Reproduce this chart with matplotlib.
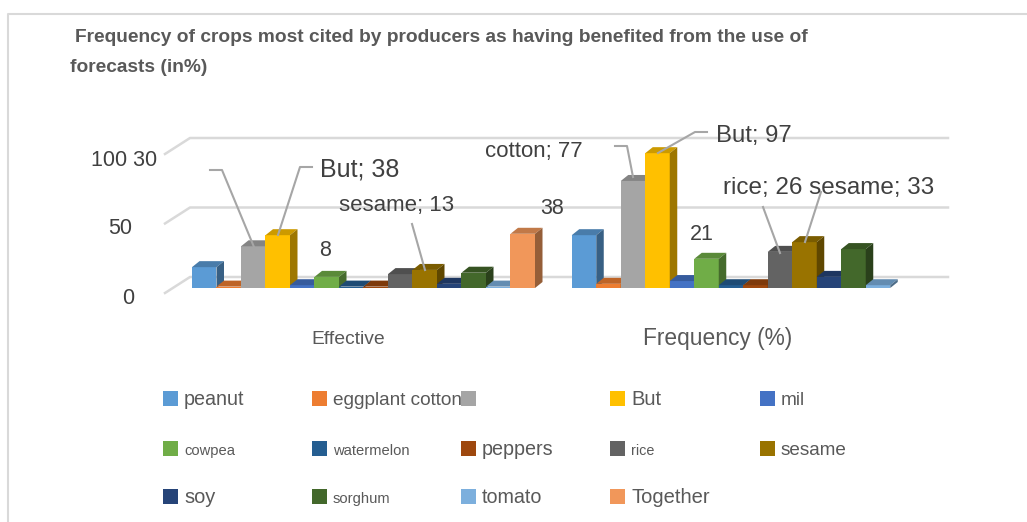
import matplotlib
matplotlib.use('Agg')
import matplotlib.pyplot as plt
from matplotlib.patches import Polygon, Rectangle
from matplotlib.colors import to_rgb

plt.rcParams['font.family'] = ['Liberation Sans', 'DejaVu Sans']

crops = ['peanut', 'eggplant', 'cotton', 'But', 'mil', 'cowpea', 'watermelon',
         'peppers', 'rice', 'sesame', 'soy', 'sorghum', 'tomato', 'Together']
effective = [15, 1, 30, 38, 2, 8, 1, 1, 10, 13, 3, 11, 1, 39]
frequency = [38, 3, 77, 97, 5, 21, 2, 2, 26, 33, 8, 28, 2, 0]
colors = ['#5B9BD5', '#ED7D31', '#A5A5A5', '#FFC000', '#4472C4', '#70AD47', '#255E91',
          '#9E480E', '#636363', '#997300', '#264478', '#43682B', '#7CAFDD', '#F1975A']
group_names = ['Effective', 'Frequency (%)']
y_ticks = [0, 50, 100]
GREY = '#595959'
DARK = '#404040'
GRID = '#D9D9D9'
LEADER = '#A6A6A6'

W, H = 1027, 522
BAR_PX = 24.5      # bar width
UNIT_PX = 1.39     # pixels per percent
X0, Y0 = 192, 288  # corner of the first bar


def shade(col, f):
    r, g, b = to_rgb(col)
    return (r * f, g * f, b * f)


fig = plt.figure(figsize=(W / 100, H / 100), dpi=100)
# px: overlay in pixel coordinates for text, frame and legend
px = fig.add_axes([0, 0, 1, 1])
px.set_xlim(0, W)
px.set_ylim(H, 0)
px.axis('off')
# ax: the value axes, one x unit is one bar
ax = fig.add_axes([0, 0, 1, 1])
ax.set_xlim(-X0 / BAR_PX, (W - X0) / BAR_PX)
ax.set_ylim((Y0 - H) / UNIT_PX, Y0 / UNIT_PX)
ax.axis('off')
ax.patch.set_alpha(0)

depth_x = 7.5 / BAR_PX
depth_y = 6 / UNIT_PX
wall_x = -2 / BAR_PX
wall_y = 11 / UNIT_PX
left_x = -27 / BAR_PX
left_y = -5 / UNIT_PX
right_x = 948
group_gap = 15.5

# frame, open on the right
px.plot([8, 8, W], [H, 14, 14], color=GRID, lw=1.5)

# back wall lines and the slanted part on the left
for t in y_ticks:
    ax.plot([left_x, wall_x, (right_x - X0) / BAR_PX],
            [t + left_y, t + wall_y, t + wall_y], color=GRID, lw=1.8, zorder=1)


def bars(offset, values):
    for i, v in enumerate(values):
        if v == 0:
            continue
        c = colors[i]
        x = offset + i
        ax.bar(x, v, width=1, align='edge', color=c, zorder=3 + i)
        ax.add_patch(Polygon([(x, v), (x + 1, v), (x + 1 + depth_x, v + depth_y), (x + depth_x, v + depth_y)],
                             color=shade(c, 0.8), lw=0, zorder=3 + i))
        ax.add_patch(Polygon([(x + 1, 0), (x + 1 + depth_x, depth_y), (x + 1 + depth_x, v + depth_y), (x + 1, v)],
                             color=shade(c, 0.62), lw=0, zorder=3 + i))


bars(0, effective)
bars(group_gap, frequency)

# leader lines to the labelled bars
leaders = [[(210, 170), (222, 170), (254, 247)],
           [(312, 167), (300, 167), (278, 235)],
           [(412, 224), (425, 270)],
           [(615, 146), (627, 146), (633, 177)],
           [(707, 132), (695, 132), (658, 153)],
           [(763, 207), (780, 253)],
           [(821, 192), (805, 242)]]
for pts in leaders:
    px.plot([p[0] for p in pts], [p[1] for p in pts], color=LEADER, lw=1.5, zorder=20)
px.set_zorder(5)

# title
px.text(75, 37, 'Frequency of crops most cited by producers as having benefited from the use of',
        fontsize=13.8, fontweight='bold', color=GREY, va='center')
px.text(70, 67, 'forecasts (in%)', fontsize=13.8, fontweight='bold', color=GREY, va='center')

# value axis labels
big = 15.5
px.text(157, 160, '100 30', fontsize=big, color=DARK, ha='right', va='center')
px.text(132, 228, str(y_ticks[1]), fontsize=big, color=DARK, ha='right', va='center')
px.text(134, 298, str(y_ticks[0]), fontsize=big, color=DARK, ha='right', va='center')

# data labels
idx = crops.index
px.text(320, 170, f"But; {effective[idx('But')]}", fontsize=18, color=DARK, va='center')
px.text(339, 205, f"sesame; {effective[idx('sesame')]}", fontsize=16, color=DARK, va='center')
px.text(319, 250, str(effective[idx('cowpea')]), fontsize=big, color=DARK, va='center')
px.text(485, 151, f"cotton; {frequency[idx('cotton')]}", fontsize=16, color=DARK, va='center')
px.text(716, 136, f"But; {frequency[idx('But')]}", fontsize=17.2, color=DARK, va='center')
px.text(540, 208, str(frequency[idx('peanut')]), fontsize=big, color=DARK, va='center')
px.text(690, 234, str(frequency[idx('cowpea')]), fontsize=big, color=DARK, va='center')
px.text(723, 188, f"rice; {frequency[idx('rice')]} sesame; {frequency[idx('sesame')]}",
        fontsize=17.5, color=DARK, va='center')

# category labels
px.text(348, 340, group_names[0], fontsize=13.9, color=GREY, ha='center', va='center')
px.text(718, 339, group_names[1], fontsize=16.4, color=GREY, ha='center', va='center')

# legend, five columns and three rows
col_x = [163, 312, 461, 610, 760]
row_y = [399, 449, 497]
legend_labels = ['peanut', 'eggplant cotton', '', 'But', 'mil',
                 'cowpea', 'watermelon', 'peppers', 'rice', 'sesame',
                 'soy', 'sorghum', 'tomato', 'Together']
legend_sizes = [14.2, 13.7, 13.5, 14.5, 13.7,
                10.6, 10.6, 14.2, 10.4, 13.6,
                14.4, 10.6, 14.2, 14.5]
for k, (lab, c, fs) in enumerate(zip(legend_labels, colors, legend_sizes)):
    x = col_x[k % 5]
    y = row_y[k // 5]
    px.add_patch(Rectangle((x, y - 8), 15, 15, color=c, lw=0))
    px.text(x + 21, y + 6, lab, fontsize=fs, color=GREY, va='baseline')

fig.savefig('out.png', dpi=100)
